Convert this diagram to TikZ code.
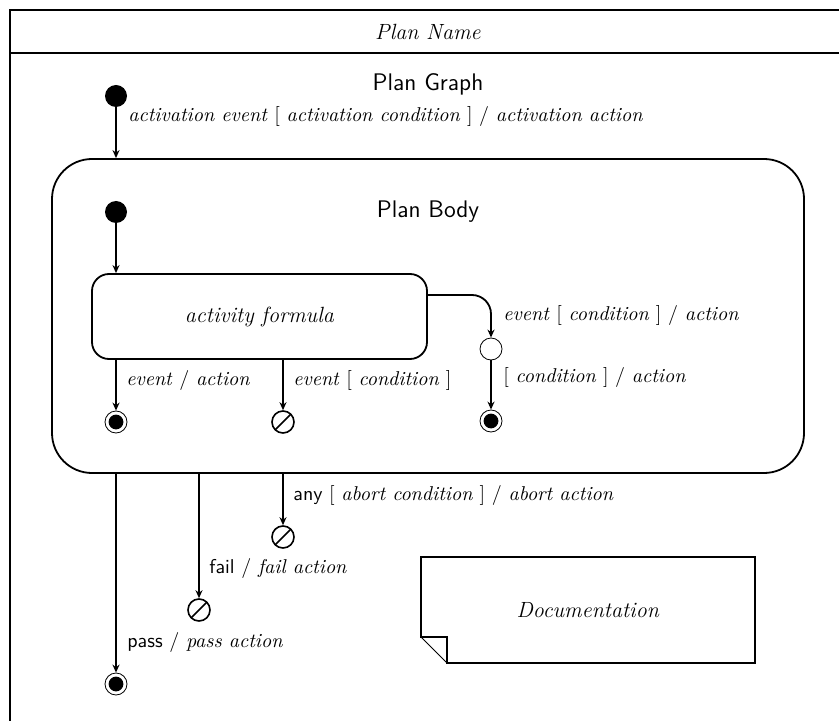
\documentclass[tikz,border=0pt]{standalone}
\usepackage{tikz}
\usetikzlibrary{
	positioning,
	arrows.meta
}

\begin{document}
\begin{tikzpicture}[
		x=0.5pt, y=-0.5pt,
		every node/.style={font=\fontsize{11}{13}\selectfont},
		initstate/.style={circle, fill, inner sep=0pt, minimum size=11pt},
		finalstate/.style={circle, draw, thin, inner sep=0pt, minimum size=11pt,
			path picture={\fill (path picture bounding box.center) circle (3.7pt);}},
		termstate/.style={circle, draw, line width=0.8pt, inner sep=0pt, minimum size=11pt,
			path picture={\draw[line width=0.8pt] (path picture bounding box.south west) -- (path picture bounding box.north east);}},
		choicestate/.style={circle, draw, thin, inner sep=0pt, minimum size=11pt},
		trans/.style={draw, line width=0.9pt, -{Stealth[length=4pt,width=3.5pt]}},
		lbl/.style={anchor=west, inner sep=0pt, font=\fontsize{10}{12}\selectfont},
		title/.style={font=\sffamily\fontsize{12}{14}\selectfont}
	]
		\useasboundingbox (0,0) rectangle (839,721);

		% frame
		\draw[line width=1pt] (839,10) -- (10,10) -- (10,721);
		\draw[line width=1pt] (10,53) -- (839,53);

		\node (name)  at (428,32) {\textit{Plan Name}};
		\node[title] (graph) at (428,84) {Plan Graph};

		% plan body
		\node[draw, line width=0.9pt, rounded corners=20pt, inner sep=0pt,
			minimum width=376pt, minimum height=157pt] (body) at (428,316) {};
		\node[title] (bodyname) at (428,212) {Plan Body};

		\node[draw, line width=0.9pt, rounded corners=8.5pt, inner sep=0pt,
			minimum width=167.5pt, minimum height=42.5pt] (act) at (259.5,316.5) {\textit{activity formula}};

		\draw
			node[initstate]   (init)  at (116,96)  {}
			node[initstate]   (binit) at (116,212) {}
			node[finalstate]  (fin1)  at (116,422) {}
			node[termstate]   (term1) at (283,422) {}
			node[choicestate] (choice) at (491,349) {}
			node[finalstate]  (fin2)  at (491,421) {}
			node[termstate]   (term2) at (283,537) {}
			node[termstate]   (term3) at (199,610) {}
			node[finalstate]  (fin3)  at (116,684) {}
		;

		% transitions
		\draw[trans] (init) -- (init |- body.north);
		\draw[trans] (binit) -- (binit |- act.north);
		\draw[trans] (act.south -| fin1) -- (fin1);
		\draw[trans] (act.south -| term1) -- (term1);
		\draw[trans, rounded corners=9.5pt] ([yshift=10.75pt]act.east) -| (choice);
		\draw[trans] (choice) -- (fin2);
		\draw[trans] (body.south -| term2) -- (term2);
		\draw[trans] (body.south -| term3) -- (term3);
		\draw[trans] (body.south -| fin3) -- (fin3);

		% labels
		\node[lbl] (lact)  at (128,117) {\textit{activation event} [ \textit{activation condition} ] / \textit{activation action}};
		\node[lbl] (lfin1) at (126,380) {\textit{event} / \textit{action}};
		\node[lbl] (lterm1) at (293,380) {\textit{event} [ \textit{condition} ]};
		\node[lbl] (lchoice) at (503,316) {\textit{event} [ \textit{condition} ] / \textit{action}};
		\node[lbl] (lfin2) at (503,377) {[ \textit{condition} ] / \textit{action}};
		\node[lbl] (lterm2) at (293,495) {\textsf{any} [ \textit{abort condition} ] / \textit{abort action}};
		\node[lbl] (lterm3) at (209,568) {\textsf{fail} / \textit{fail action}};
		\node[lbl] (lfin3) at (127,642) {\textsf{pass} / \textit{pass action}};

		% documentation note
		\draw[line width=0.9pt] (421,557) -- (755,557) -- (755,663) -- (447,663) -- (447,637) -- (421,637) -- cycle;
		\draw[thin] (421,637) -- (447,663);
		\node (doc) at (588,610) {\textit{Documentation}};
	\end{tikzpicture}
\end{document}
